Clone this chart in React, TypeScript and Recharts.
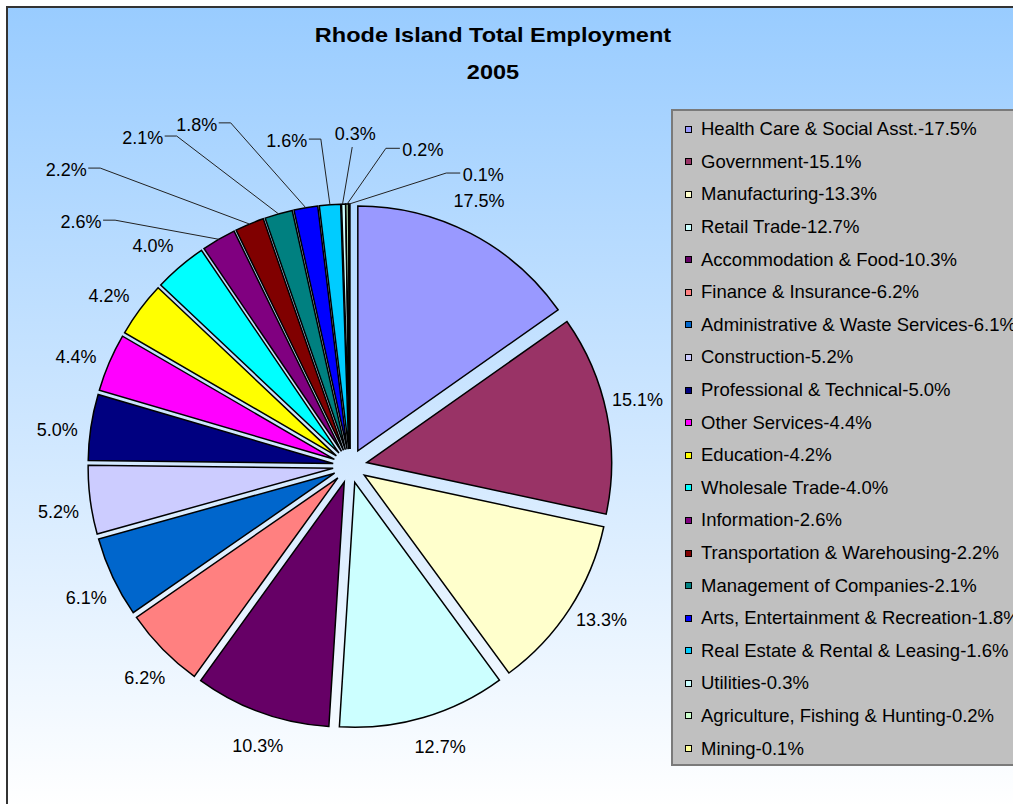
import { PieChart, Pie, Cell, Sector, Legend } from "recharts";

const categories = [
  "Health Care & Social Asst.",
  "Government",
  "Manufacturing",
  "Retail Trade",
  "Accommodation & Food",
  "Finance & Insurance",
  "Administrative & Waste Services",
  "Construction",
  "Professional & Technical",
  "Other Services",
  "Education",
  "Wholesale Trade",
  "Information",
  "Transportation & Warehousing",
  "Management of Companies",
  "Arts, Entertainment & Recreation",
  "Real Estate & Rental & Leasing",
  "Utilities",
  "Agriculture, Fishing & Hunting",
  "Mining",
];

const shares = [
  17.5, 15.1, 13.3, 12.7, 10.3, 6.2, 6.1, 5.2, 5.0, 4.4, 4.2, 4.0, 2.6, 2.2,
  2.1, 1.8, 1.6, 0.3, 0.2, 0.1,
];

const colors = [
  "#9999FF", "#993366", "#FFFFCC", "#CCFFFF", "#660066", "#FF8080",
  "#0066CC", "#CCCCFF", "#000080", "#FF00FF", "#FFFF00", "#00FFFF",
  "#800080", "#800000", "#008080", "#0000FF", "#00CCFF", "#CCFFFF",
  "#CCFFCC", "#FFFF99",
];

const data = categories.map((name, i) => ({ name, value: shares[i] }));

const RAD = Math.PI / 180;
const EXPLODE = 17;
const FONT = '"Liberation Sans", Arial, sans-serif';

// hand-placed callout labels for the thin slices: [degrees clockwise from top, distance]
const CALLOUTS: Record<number, [number, number]> = {
  12: [-47.8, 363],
  13: [-43.8, 410],
  14: [-32.3, 388],
  15: [-24.2, 374],
  16: [-11, 331],
  17: [0.9, 332],
  18: [13, 324],
  19: [24.6, 320],
};

function ExplodedSector(props: any) {
  const { cx, cy, midAngle } = props;
  const dx = EXPLODE * Math.cos(-midAngle * RAD);
  const dy = EXPLODE * Math.sin(-midAngle * RAD);
  return <Sector {...props} cx={cx + dx} cy={cy + dy} />;
}

function renderLabel(props: any) {
  const { cx, cy, midAngle, outerRadius, index, value } = props;
  const text = `${Number(value).toFixed(1)}%`;
  const style = { fontFamily: FONT, fontSize: 18, fill: "#000" };
  const callout = CALLOUTS[index];
  if (!callout) {
    // Excel nudges the outside labels a little counter-clockwise
    const ang = midAngle + 1.5;
    const r = outerRadius + 50;
    return (
      <text
        x={cx + r * Math.cos(-ang * RAD)}
        y={cy + r * Math.sin(-ang * RAD)}
        textAnchor="middle"
        dominantBaseline="central"
        style={style}
      >
        {text}
      </text>
    );
  }
  const ux = Math.cos(-midAngle * RAD);
  const uy = Math.sin(-midAngle * RAD);
  const [a, r] = callout;
  const tx = cx + r * Math.sin(a * RAD);
  const ty = cy - r * Math.cos(a * RAD);
  const ex = cx + (outerRadius + EXPLODE) * ux;
  const ey = cy + (outerRadius + EXPLODE) * uy;
  const half = 21;
  let pts: number[][];
  if (a < -5) pts = [[tx + half + 1, ty - 2], [tx + half + 13, ty - 2], [ex, ey]];
  else if (a > 5) pts = [[tx - half - 2, ty - 2], [tx - half - 16, ty - 2], [ex, ey]];
  else pts = [[tx - 3, ty + 13], [ex - 1, ey]];
  return (
    <g>
      <polyline
        points={pts.map((p) => p.join(",")).join(" ")}
        fill="none"
        stroke="#222"
        strokeWidth={1}
      />
      <text
        x={tx}
        y={ty}
        textAnchor="middle"
        dominantBaseline="central"
        style={style}
      >
        {text}
      </text>
    </g>
  );
}

function renderLegend(props: any) {
  const payload = props.payload || [];
  return (
    <div
      style={{
        background: "#C0C0C0",
        border: "2px solid #7a7a7a",
        boxSizing: "border-box",
        width: 380,
        height: 657,
        paddingTop: 2,
        paddingLeft: 12,
        fontFamily: FONT,
        fontSize: 18.5,
        color: "#000",
      }}
    >
      {payload.map((p: any, i: number) => {
        const idx = categories.indexOf(p.value);
        return (
          <div
            key={i}
            style={{
              height: 32.6,
              display: "flex",
              alignItems: "center",
              whiteSpace: "nowrap",
            }}
          >
            <span
              style={{
                display: "inline-block",
                width: 5,
                height: 5,
                background: colors[idx],
                border: "1.5px solid #000",
                marginRight: 9,
                flexShrink: 0,
              }}
            />
            <span>{`${p.value}-${shares[idx].toFixed(1)}%`}</span>
          </div>
        );
      })}
    </div>
  );
}

const titleStyle: any = {
  position: "absolute",
  left: 0,
  width: 986,
  textAlign: "center",
  fontFamily: FONT,
  fontWeight: "bold",
  fontSize: 21,
  lineHeight: "24px",
  color: "#000",
  transform: "scaleX(1.12)",
  transformOrigin: "493px 0",
};

export default function App() {
  return (
    <div
      style={{
        position: "fixed",
        left: 0,
        top: 0,
        width: 1013,
        height: 804,
        overflow: "hidden",
        background: "#fff",
      }}
    >
      <div
        style={{
          position: "absolute",
          left: 6,
          top: 6,
          width: 1100,
          height: 800,
          borderLeft: "2px solid #333",
          borderTop: "2px solid #333",
          background: "linear-gradient(#99CCFF, #FFFFFF)",
        }}
      />
      <div style={{ ...titleStyle, top: 23 }}>Rhode Island Total Employment</div>
      <div style={{ ...titleStyle, top: 60 }}>2005</div>
      <div style={{ position: "absolute", left: 0, top: 0 }}>
        <PieChart
          width={1013}
          height={804}
          margin={{ top: 0, right: 0, bottom: 0, left: 0 }}
        >
          <Pie
            data={data}
            dataKey="value"
            nameKey="name"
            cx={350}
            cy={466}
            outerRadius={245}
            startAngle={90}
            endAngle={-270}
            stroke="#000"
            strokeWidth={1.5}
            shape={ExplodedSector}
            label={renderLabel}
            labelLine={false}
            isAnimationActive={false}
          >
            {data.map((_, i) => (
              <Cell key={i} fill={colors[i]} />
            ))}
          </Pie>
          <Legend
            layout="vertical"
            align="right"
            verticalAlign="top"
            itemSorter={null}
            content={renderLegend}
            wrapperStyle={{ left: 671, top: 109, width: 380 }}
          />
        </PieChart>
      </div>
    </div>
  );
}
